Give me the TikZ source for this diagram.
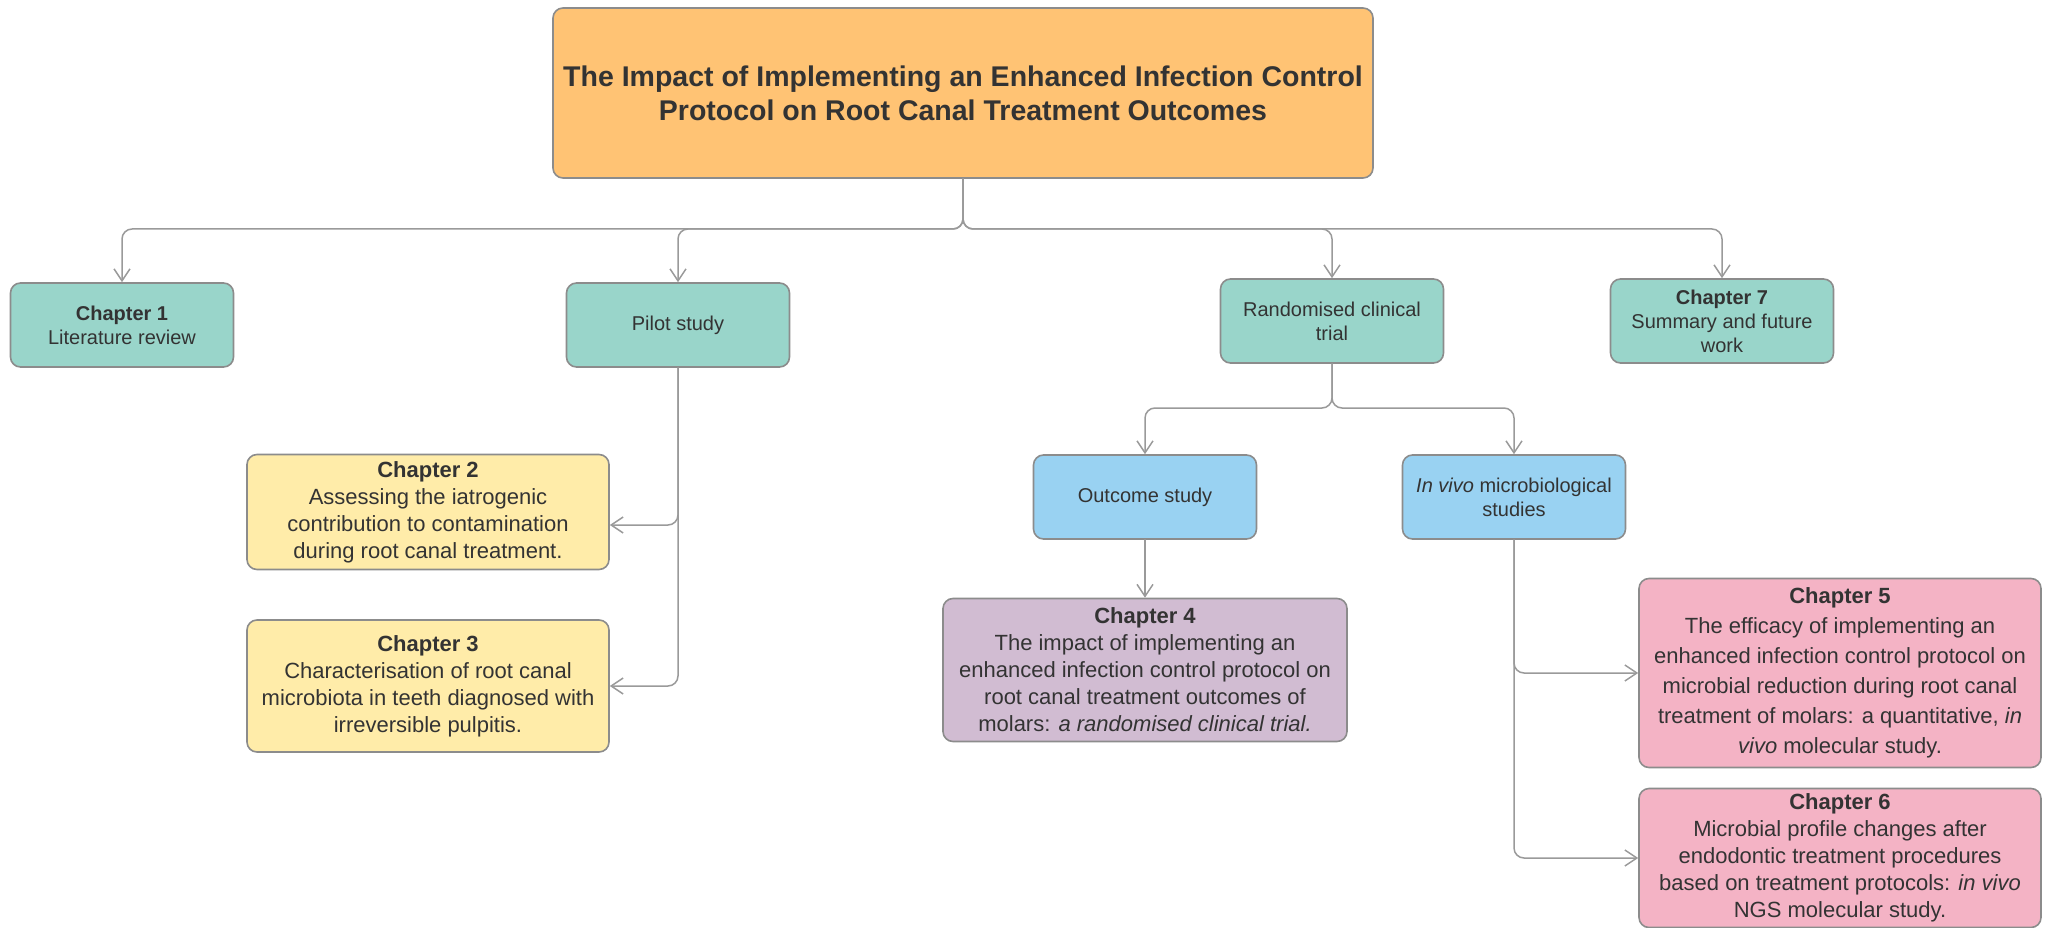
\documentclass[tikz,border=0pt]{standalone}
\usepackage{fontspec}
\setmainfont{Liberation Sans}
\usetikzlibrary{arrows.meta}
\definecolor{titlefill}{HTML}{FFC374}
\definecolor{tealfill}{HTML}{99D5CA}
\definecolor{yellowfill}{HTML}{FFECA9}
\definecolor{bluefill}{HTML}{99D2F2}
\definecolor{purplefill}{HTML}{D1BCD2}
\definecolor{pinkfill}{HTML}{F4B3C5}
\definecolor{boxline}{HTML}{8C8C8C}
\definecolor{linkgrey}{HTML}{9A9A9A}
\definecolor{textgrey}{HTML}{333333}
\begin{document}
\begin{tikzpicture}[x=1pt,y=-1pt,line join=round,line cap=round,
	box/.style={draw=boxline,line width=1.6pt,rounded corners=10pt,text=textgrey,align=center,inner sep=0pt},
	small/.style={box,fill=tealfill,minimum width=223pt,minimum height=84pt,font=\fontsize{20}{24}\selectfont},
	study/.style={small,fill=bluefill},
	chap/.style={box,font=\fontsize{22}{27}\selectfont},
	link/.style={draw=linkgrey,line width=1.5pt,rounded corners=10pt,-{Straight Barb[length=12pt,width=16pt,line width=1.5pt]}}]
	\useasboundingbox (0,0) rectangle (2053,928);
	\node[box,fill=titlefill,minimum width=820pt,minimum height=170pt,font=\fontsize{28.5}{34}\selectfont\bfseries] (title) at (963,93)
		{The Impact of Implementing an Enhanced Infection Control\\Protocol on Root Canal Treatment Outcomes};
	\node[small] (ch1) at (122,325) {\textbf{Chapter 1}\\Literature review};
	\node[small] (pilot) at (678,325) {Pilot study};
	\node[small] (rct) at (1332,321) {Randomised clinical\\trial};
	\node[small] (ch7) at (1722,321) {\textbf{Chapter 7}\\Summary and future\\work};
	\node[chap,fill=yellowfill,minimum width=362pt,minimum height=115pt] (ch2) at (428,512)
		{\textbf{Chapter 2}\\Assessing the iatrogenic\\contribution to contamination\\during root canal treatment.};
	\node[chap,fill=yellowfill,minimum width=362pt,minimum height=132pt] (ch3) at (428,686)
		{\textbf{Chapter 3}\\Characterisation of root canal\\microbiota in teeth diagnosed with\\irreversible pulpitis.};
	\node[study] (outcome) at (1145,497) {Outcome study};
	\node[study] (invivo) at (1514,497) {\textit{In vivo} microbiological\\studies};
	\node[chap,fill=purplefill,minimum width=404pt,minimum height=143pt] (ch4) at (1145,670)
		{\textbf{Chapter 4}\\The impact of implementing an\\enhanced infection control protocol on\\root canal treatment outcomes of\\molars: \textit{a randomised clinical trial.}};
	\node[chap,fill=pinkfill,minimum width=402pt,minimum height=189pt,font=\fontsize{22}{30}\selectfont] (ch5) at (1840,673)
		{\textbf{Chapter 5}\\The efficacy of implementing an\\enhanced infection control protocol on\\microbial reduction during root canal\\treatment of molars: a quantitative, \textit{in}\\\textit{vivo} molecular study.};
	\node[chap,fill=pinkfill,minimum width=402pt,minimum height=139pt] (ch6) at (1840,858)
		{\textbf{Chapter 6}\\Microbial profile changes after\\endodontic treatment procedures\\based on treatment protocols: \textit{in vivo}\\NGS molecular study.};
	\coordinate (bus) at (0,229);
	\coordinate (bus2) at (0,408);
	\foreach \n in {ch1,pilot,rct,ch7}
		\draw[link] (title.south) -- (title.south |- bus) -| (\n.north);
	\draw[link] (pilot.south) |- ([yshift=-13pt]ch2.east);
	\draw[link] (pilot.south) |- (ch3.east);
	\foreach \n in {outcome,invivo}
		\draw[link] (rct.south) -- (rct.south |- bus2) -| (\n.north);
	\draw[link] (outcome.south) -- (outcome.south |- ch4.north);
	\draw[link] (invivo.south) |- (ch5.west);
	\draw[link] (invivo.south) |- (ch6.west);
\end{tikzpicture}
\end{document}
